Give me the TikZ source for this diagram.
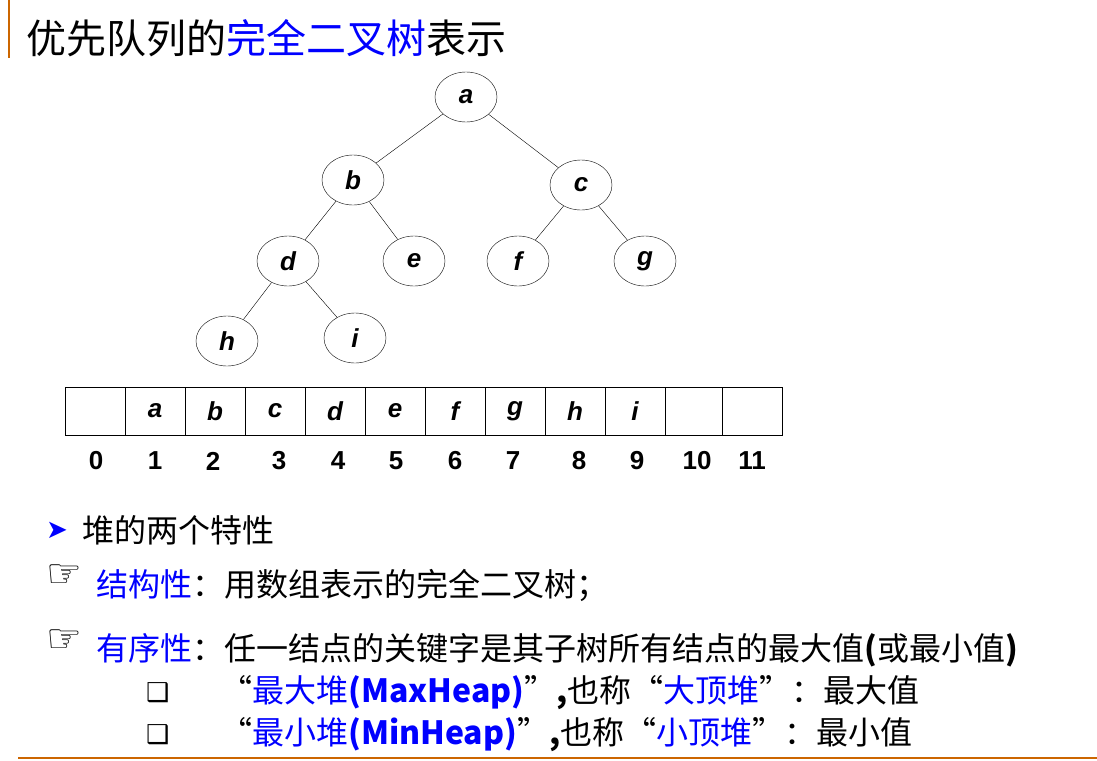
\documentclass[tikz,border=0pt]{standalone}
\usepackage{fontspec}
\setmainfont{Liberation Sans}
\newfontfamily\cjk{Noto Sans CJK SC}
\newfontfamily\dvs{DejaVu Sans}
\usetikzlibrary{shapes.geometric}
\definecolor{orng}{RGB}{204,102,0}
\definecolor{blu}{RGB}{0,0,255}
\begin{document}
\begin{tikzpicture}[x=1pt,y=-1pt,
  tn/.style={draw,ellipse,minimum width=62pt,minimum height=50pt,inner sep=0pt,font=\fontsize{26}{26}\selectfont\bfseries\itshape},
  cellb/.style={draw,minimum width=60pt,minimum height=48pt,inner sep=0pt,font=\fontsize{26}{26}\selectfont\bfseries\itshape},
  idx/.style={font=\fontsize{26}{26}\selectfont\bfseries},
  ln/.style={anchor=west,inner sep=0pt,font=\fontsize{32}{32}\selectfont\cjk}]
\useasboundingbox (0,0) rectangle (1097,760);
\draw[orng,line width=2pt] (9,0) -- (9,58);
\draw[orng,line width=2pt] (18,758) -- (1097,758);
\node[anchor=west,inner sep=0pt,font=\fontsize{40}{40}\selectfont\cjk] (title) at (26,38) {优先队列的\textcolor{blu}{完全二叉树}表示};
\node[tn] (a) at (466,97) {a};
\node[tn] (b) at (353,180) {b};
\node[tn] (c) at (581,185) {c};
\node[tn] (d) at (288,261) {d};
\node[tn] (e) at (414,261) {e};
\node[tn] (f) at (518,261) {f};
\node[tn] (g) at (645,261) {g};
\node[tn] (h) at (227,341) {h};
\node[tn] (i) at (355,338) {i};
\foreach \u/\v in {a/b,a/c,b/d,b/e,c/f,c/g,d/h,d/i} \draw (\u) -- (\v);
\foreach \k/\x/\t in {0/95/{},1/155/a,2/215/b,3/275/c,4/335/d,5/395/e,6/455/f,7/515/g,8/575/h,9/635/i}
  \node[cellb] (c\k) at (\x,411) {\t};
\node[cellb,minimum width=57pt] (c10) at (693.5,411) {};
\node[cellb,minimum width=60pt] (c11) at (752,411) {};
\foreach \k/\x in {0/96,1/155,2/213,3/279,4/338,5/396,6/455,7/513,8/579,9/637,10/697,11/752}
  \node[idx] (n\k) at (\x,461) {\k};
\node[anchor=west,inner sep=0pt,text=blu,font=\fontsize{26}{26}\selectfont\dvs] (ar) at (46,530) {➤};
\node[ln] (l1) at (82,530) {堆的两个特性};
\node[anchor=west,inner sep=0pt,font=\fontsize{40}{40}\selectfont\dvs\bfseries] (hd1) at (46,576) {☞};
\node[ln] (l2) at (96,585) {\textcolor{blu}{结构性}：用数组表示的完全二叉树；};
\node[anchor=west,inner sep=0pt,font=\fontsize{40}{40}\selectfont\dvs\bfseries] (hd2) at (46,641) {☞};
\node[ln] (l3) at (96,650) {\textcolor{blu}{有序性}：任一结点的关键字是其子树所有结点的最大值\textbf{(}或最小值\textbf{)}};
\node[anchor=west,inner sep=0pt,font=\fontsize{26}{26}\selectfont\dvs\bfseries] (q1) at (146,693) {❑};
\node[anchor=west,inner sep=0pt,font=\fontsize{26}{26}\selectfont\dvs\bfseries] (q2) at (146,735) {❑};
\node[ln] (l4) at (220,693) {“\textcolor{blu}{最大堆\textbf{(MaxHeap)}}”\textbf{,}也称“\textcolor{blu}{大顶堆}”：最大值};
\node[ln] (l5) at (220,735) {“\textcolor{blu}{最小堆\textbf{(MinHeap)}}”\textbf{,}也称“\textcolor{blu}{小顶堆}”：最小值};
\end{tikzpicture}
\end{document}
